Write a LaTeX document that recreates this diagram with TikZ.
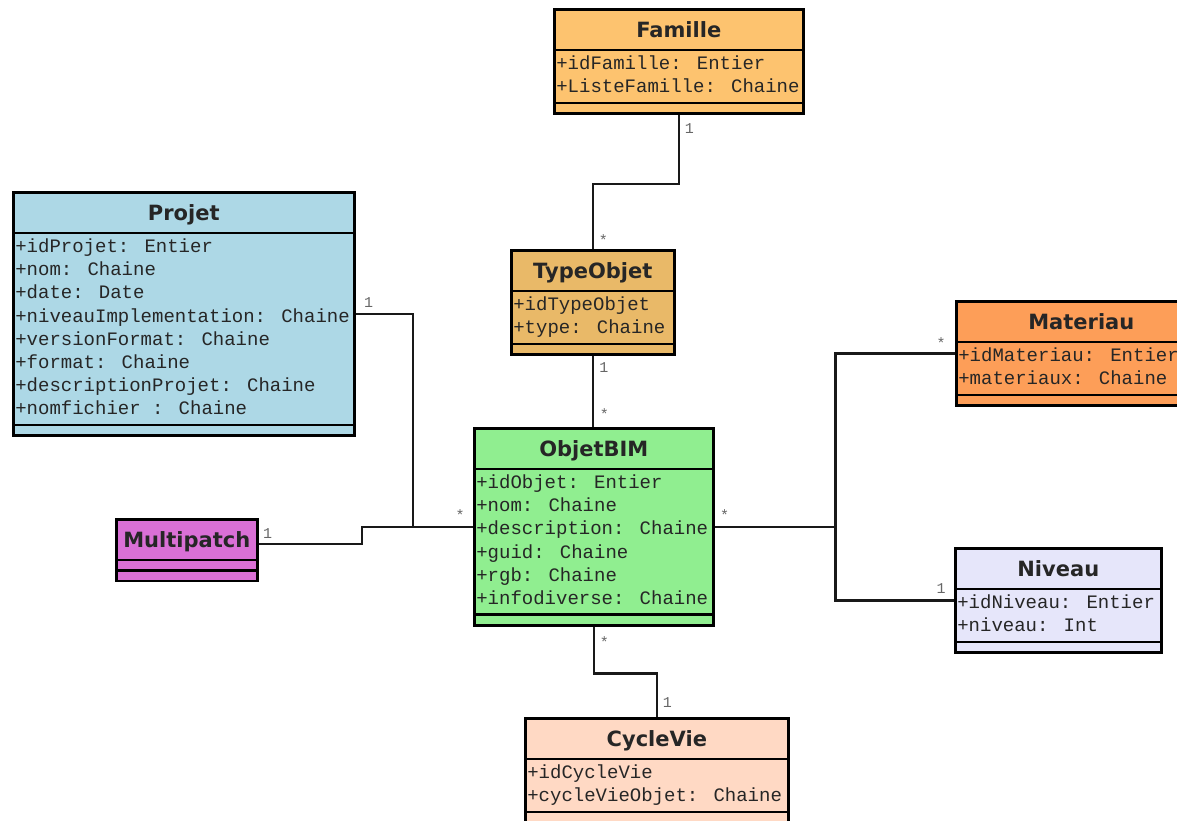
\documentclass[tikz,border=0pt]{standalone}
\usepackage{fontspec}
\setmainfont{DejaVu Sans}
\newfontfamily\monofont{Liberation Mono}
\usetikzlibrary{shapes.multipart}
\usetikzlibrary{calc}

\definecolor{famillefill}{HTML}{FDC36F}
\definecolor{typefill}{HTML}{E9B968}
\definecolor{projetfill}{HTML}{ADD8E6}
\definecolor{objetfill}{HTML}{90EE90}
\definecolor{materiaufill}{HTML}{FD9E58}
\definecolor{niveaufill}{HTML}{E6E6FA}
\definecolor{multifill}{HTML}{DA70D6}
\definecolor{cyclefill}{HTML}{FFD9C4}

% class title and empty compartment
\newcommand{\classname}[1]{\rule[-9pt]{0pt}{34pt}{\rmfamily\bfseries\fontsize{21}{24}\selectfont #1}}
\newcommand{\emptypart}{\rule{0pt}{4pt}}

\begin{document}
\begin{tikzpicture}[
    x=1pt, y=-1pt,
    % UML class
    umlclass/.style={
        rectangle split,
        rectangle split parts=3,
        rectangle split part align={center,left,left},
        draw=black,
        line width=2.6pt,
        inner xsep=2pt,
        inner ysep=2pt,
        anchor=north west,
        align=left,
        text=black!85,
        font=\monofont\fontsize{19}{23.2}\selectfont
    },
    % Association
    assoc/.style={
        line width=2.4pt,
        draw=black!90
    },
    % Multiplicity
    mult/.style={
        inner sep=0pt,
        text=black!60,
        font=\monofont\fontsize{15}{15}\selectfont
    }
]

\fill[white] (0,0) rectangle (1177,820);
\useasboundingbox (0,0) rectangle (1177,820);
\clip (0,0) rectangle (1177,820);

% Classes
\node[umlclass, fill=famillefill, minimum width=249pt] (famille) at (553,8)
    {\classname{Famille}
     \nodepart{two}\strut+idFamille: Entier\\\strut+ListeFamille: Chaine
     \nodepart{three}\emptypart};

\node[umlclass, fill=typefill, minimum width=163pt] (typeobjet) at (510,249)
    {\classname{TypeObjet}
     \nodepart{two}\strut+idTypeObjet\\\strut+type: Chaine
     \nodepart{three}\emptypart};

\node[umlclass, fill=projetfill, minimum width=341pt] (projet) at (12,191)
    {\classname{Projet}
     \nodepart{two}\strut+idProjet: Entier\\\strut+nom: Chaine\\\strut+date: Date\\
        \strut+niveauImplementation: Chaine\\\strut+versionFormat: Chaine\\
        \strut+format: Chaine\\\strut+descriptionProjet: Chaine\\\strut+nomfichier : Chaine
     \nodepart{three}\emptypart};

\node[umlclass, fill=objetfill, minimum width=239pt] (objetbim) at (473,427)
    {\classname{ObjetBIM}
     \nodepart{two}\strut+idObjet: Entier\\\strut+nom: Chaine\\\strut+description: Chaine\\
        \strut+guid: Chaine\\\strut+rgb: Chaine\\\strut+infodiverse: Chaine
     \nodepart{three}\emptypart};

\node[umlclass, fill=materiaufill, minimum width=250pt] (materiau) at (955,300)
    {\classname{Materiau}
     \nodepart{two}\strut+idMateriau: Entier\\\strut+materiaux: Chaine
     \nodepart{three}\emptypart};

\node[umlclass, fill=niveaufill, minimum width=206pt] (niveau) at (954,547)
    {\classname{Niveau}
     \nodepart{two}\strut+idNiveau: Entier\\\strut+niveau: Int
     \nodepart{three}\emptypart};

\node[umlclass, fill=multifill, minimum width=141pt] (multipatch) at (115,518)
    {\classname{Multipatch}
     \nodepart{two}\emptypart
     \nodepart{three}\emptypart};

\node[umlclass, fill=cyclefill, minimum width=263pt] (cyclevie) at (524,717)
    {\classname{CycleVie}
     \nodepart{two}\strut+idCycleVie\\\strut+cycleVieObjet: Chaine
     \nodepart{three}\emptypart};

% Junctions
\coordinate (ljoin) at ($(objetbim.west)+(-60,0)$);
\coordinate (rjoin) at ($(objetbim.east)+(121,0)$);

% Associations
\draw[assoc] (famille.south) -- ++(0,69) -| (typeobjet.north);
\draw[assoc] (typeobjet.south) -- (typeobjet.south |- objetbim.north);
\draw[assoc] (projet.east) -| (ljoin);
\draw[assoc] (objetbim.west) -- (ljoin) -- ++(-51,0) |- ([yshift=6pt]multipatch.east);
\draw[assoc] (objetbim.east) -- (rjoin) |- (materiau.west);
\draw[assoc] (rjoin) |- (niveau.west);
\draw[assoc] (objetbim.south) -- ++(0,47) -| (cyclevie.north);

% Multiplicities
\node[mult] (m-fam) at ($(famille.south)+(10.5,14)$) {1};
\node[mult] (m-typetop) at ($(typeobjet.north)+(10.5,-9)$) {*};
\node[mult] (m-typebot) at ($(typeobjet.south)+(11,12)$) {1};
\node[mult] (m-objtop) at ($(objetbim.north)+(10.5,-13)$) {*};
\node[mult] (m-projet) at ($(projet.east)+(13,-11)$) {1};
\node[mult] (m-objleft) at ($(objetbim.west)+(-13,-11.5)$) {*};
\node[mult] (m-multi) at ($([yshift=6pt]multipatch.east)+(9,-11)$) {1};
\node[mult] (m-objright) at ($(objetbim.east)+(10,-11.5)$) {*};
\node[mult] (m-mat) at ($(materiau.west)+(-14,-10.5)$) {*};
\node[mult] (m-niv) at ($(niveau.west)+(-13,-11.5)$) {1};
\node[mult] (m-objbot) at ($(objetbim.south)+(10.5,15)$) {*};
\node[mult] (m-cycle) at ($(cyclevie.north)+(10.5,-14)$) {1};

\end{tikzpicture}
\end{document}
